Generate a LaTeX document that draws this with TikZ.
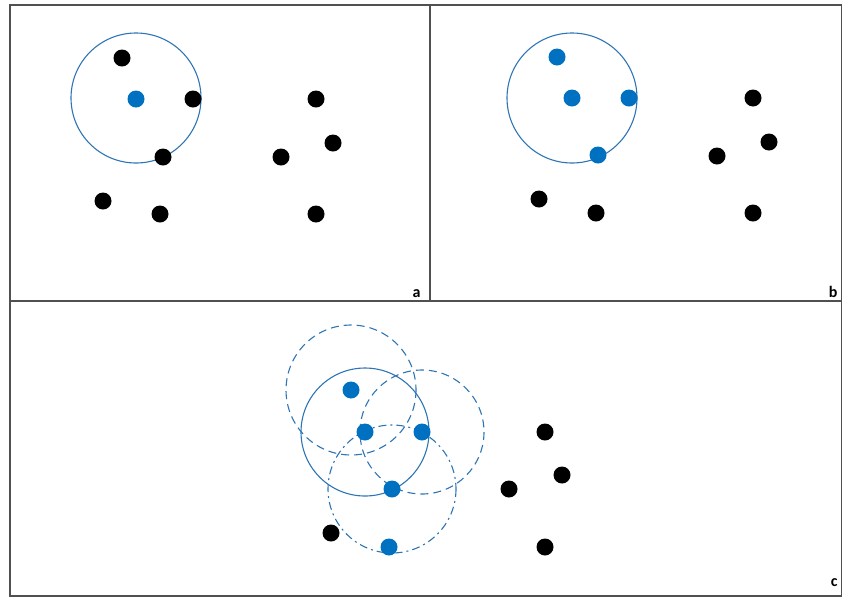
\documentclass[tikz,border=0pt]{standalone}
\usepackage{fontspec}
\setmainfont{Carlito}
\usepackage{tikz}
\usetikzlibrary{positioning}
\usepackage{xcolor}
\definecolor{pointblue}{RGB}{0, 112, 192}
\definecolor{ringblue}{RGB}{46, 117, 182}
\definecolor{framegray}{RGB}{80, 80, 80}

\tikzset{
    blackpt/.style={circle, fill=black, inner sep=0pt, minimum size=17pt},
    bluept/.style={circle, fill=pointblue, inner sep=0pt, minimum size=17pt},
    ring/.style={ringblue, line width=1.1pt},
    panellabel/.style={font=\bfseries\fontsize{16}{16}\selectfont, anchor=base east}
}

\begin{document}
\begin{tikzpicture}[x=1pt, y=-1pt]
    \useasboundingbox (0,0) rectangle (842,598);

    % Frame
    \draw[framegray, line width=1.6pt] (10,5) rectangle (842,596);
    \draw[framegray, line width=1.6pt] (10,301) -- (842,301);
    \draw[framegray, line width=1.6pt] (430,5) -- (430,301);

    \node[panellabel] (labela) at (424,297) {a};
    \node[panellabel] (labelb) at (841,297) {b};
    \node[panellabel] (labelc) at (841,586) {c};

    % Panel a
    \draw[ring] (136,98) circle (65);
    \node[bluept] (a0) at (136,99) {};
    \foreach \px/\py [count=\i] in {122/58, 193/99, 163/157, 103/201, 160/214, 316/99, 333/143, 281/157, 316/214}
        \node[blackpt] (a\i) at (\px,\py) {};

    % Panel b
    \draw[ring] (572,98) circle (65);
    \foreach \px/\py [count=\i] in {557/57, 572/98, 629/98, 598/155}
        \node[bluept] (bb\i) at (\px,\py) {};
    \foreach \px/\py [count=\i] in {539/199, 596/213, 753/98, 769/142, 717/156, 753/213}
        \node[blackpt] (bk\i) at (\px,\py) {};

    % Panel c
    \draw[ring] (365,432) circle (64);
    \draw[ring, dash pattern=on 8pt off 5pt] (351,390) circle (65);
    \draw[ring, dash pattern=on 8pt off 5pt] (422,432) circle (62);
    \draw[ring, dash pattern=on 8pt off 4pt on 2pt off 4pt] (392,489) circle (64);
    \foreach \px/\py [count=\i] in {351/390, 365/432, 422/432, 392/489, 389/547}
        \node[bluept] (cb\i) at (\px,\py) {};
    \foreach \px/\py [count=\i] in {331/533, 545/432, 562/475, 509/489, 545/547}
        \node[blackpt] (ck\i) at (\px,\py) {};
\end{tikzpicture}
\end{document}
